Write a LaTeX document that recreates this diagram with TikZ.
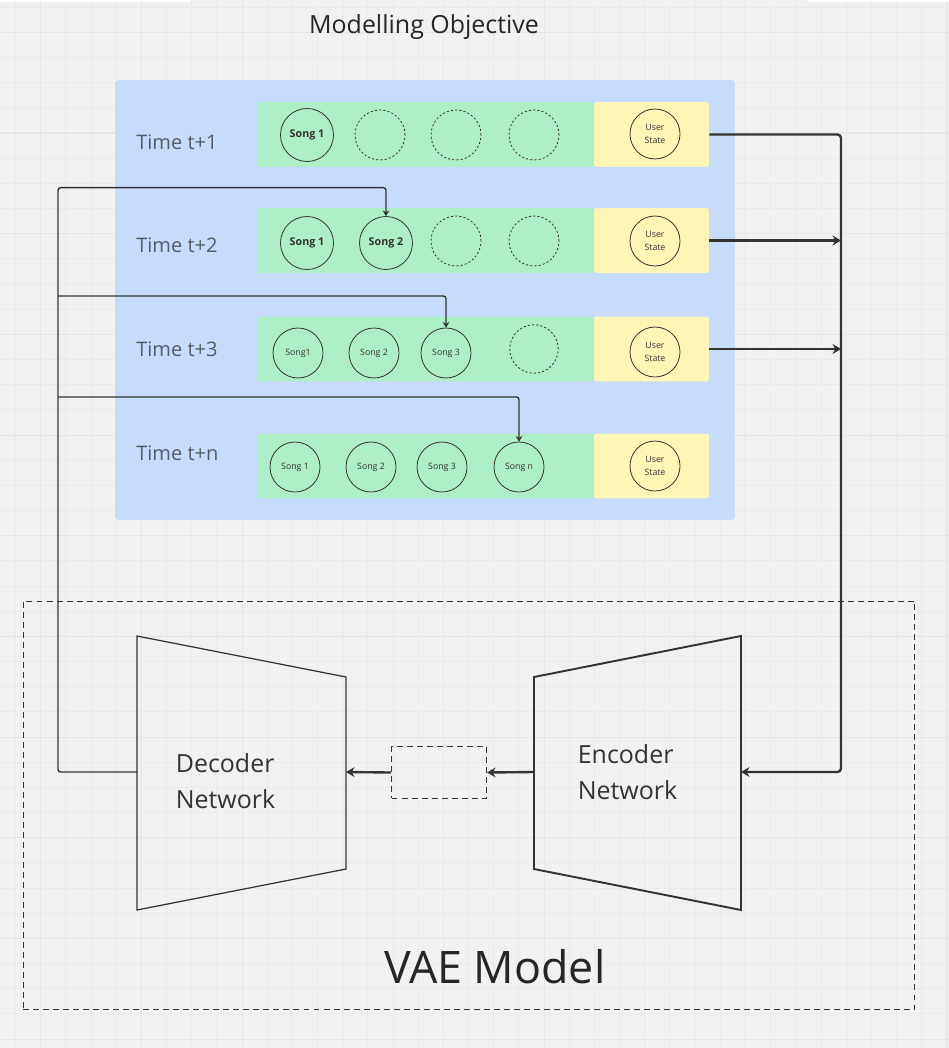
\documentclass[tikz,border=0pt]{standalone}
\usepackage{fontspec}
\setmainfont{Open Sans}
\usepackage{tikz}
\usetikzlibrary{positioning,arrows.meta}

\definecolor{bgcol}{HTML}{F1F1F1}
\definecolor{gridmin}{HTML}{EAEAEA}
\definecolor{gridmaj}{HTML}{E5E5E5}
\definecolor{panelblue}{HTML}{C7DCFD}
\definecolor{lanegreen}{HTML}{ADF0C7}
\definecolor{stateyellow}{HTML}{FFF5B5}
\definecolor{ink}{HTML}{333333}
\definecolor{timegray}{HTML}{555B66}

\begin{document}
\begin{tikzpicture}[
  x=0.02cm, y=-0.02cm,
  lane/.style={fill=lanegreen, rounded corners=1.5pt, minimum width=6.74cm, minimum height=1.3cm, inner sep=0pt},
  statebox/.style={fill=stateyellow, rounded corners=1.5pt, minimum width=2.3cm, minimum height=1.3cm, inner sep=0pt},
  song/.style={draw=ink, line width=0.45pt, circle, minimum size=1cm, inner sep=0pt, text=ink, font=\fontsize{5}{6}\selectfont},
  songb/.style={song, minimum size=1.06cm, font=\fontsize{6.1}{7}\selectfont\bfseries},
  slot/.style={song, dash pattern=on 1.2pt off 1.2pt},
  ustate/.style={song, align=center, font=\fontsize{5}{7}\selectfont},
  tlbl/.style={anchor=base west, inner sep=0pt, text=timegray, font=\fontsize{11.4}{13}\selectfont},
  netlbl/.style={anchor=west, inner sep=0pt, align=left, text=ink, font=\fontsize{14.2}{20.4}\selectfont},
  ttl/.style={anchor=base, inner sep=0pt, text=black!85},
  arr/.style={-{Stealth[length=4.8pt,width=5.6pt]}, line width=1.35pt, draw=ink, rounded corners=2pt},
  fbarr/.style={-{Stealth[length=3.2pt,width=3.8pt]}, line width=0.8pt, draw=ink, rounded corners=1.5pt},
  dashbox/.style={draw=ink, line width=0.6pt, dash pattern=on 3.4pt off 2.3pt, inner sep=0pt},
]
% --- Board ---
\useasboundingbox (0,0) rectangle (949,1048);
\clip (0,0) rectangle (949,1048);
\fill[bgcol] (0,0) rectangle (949,1048);
\foreach \i in {0,...,37} \draw[gridmin, line width=0.5pt] ({15.5+25.17*\i},0) -- ++(0,1048);
\foreach \j in {0,...,41} \draw[gridmin, line width=0.5pt] (0,{7.1+25.17*\j}) -- ++(949,0);
\foreach \i in {0,...,9} \draw[gridmaj, line width=0.6pt] ({40.7+100.7*\i},0) -- ++(0,1048);
\foreach \j in {0,...,10} \draw[gridmaj, line width=0.6pt] (0,{32.3+100.7*\j}) -- ++(949,0);
\fill[white] (0,-6) rectangle (190,2);
\fill[white] (808,-6) rectangle (949,2);

% --- Modelling objective ---
\node[ttl, font=\fontsize{14.2}{17}\selectfont] (title) at (424,33.3) {Modelling Objective};
\node[fill=panelblue, rounded corners=2pt, minimum width=12.4cm, minimum height=8.8cm] (panel) at (425,300) {};

\node[lane] (g1) at (425.5,134.5) {};
\node[lane] (g2) at (425.5,240.5) {};
\node[lane] (g3) at (425.5,349) {};
\node[lane] (g4) at (425.5,466) {};
\node[statebox] (y1) at (651.5,134.5) {};
\node[statebox] (y2) at (651.5,240.5) {};
\node[statebox] (y3) at (651.5,349) {};
\node[statebox] (y4) at (651.5,466) {};

\node[tlbl] (t1) at (136,149) {Time t+1};
\node[tlbl] (t2) at (136,252.3) {Time t+2};
\node[tlbl] (t3) at (136,356.7) {Time t+3};
\node[tlbl] (t4) at (136,460) {Time t+n};

% row t+1
\node[songb] (s11) at (307,135) {Song 1};
\node[slot] (d12) at (380,135) {};
\node[slot] (d13) at (456,135) {};
\node[slot] (d14) at (534,135) {};
\node[ustate] (u1) at (655,134) {User\\State};
% row t+2
\node[songb] (s21) at (307,243) {Song 1};
\node[songb] (s22) at (386,243) {Song 2};
\node[slot] (d23) at (456,241) {};
\node[slot] (d24) at (534,241) {};
\node[ustate] (u2) at (655,241) {User\\State};
% row t+3
\node[song] (s31) at (298,353) {Song1};
\node[song] (s32) at (374,353) {Song 2};
\node[song] (s33) at (446,353) {Song 3};
\node[slot, minimum size=0.97cm] (d34) at (534,349) {};
\node[ustate] (u3) at (655,352) {User\\State};
% row t+n
\node[song] (s41) at (295,467) {Song 1};
\node[song] (s42) at (371,467) {Song 2};
\node[song] (s43) at (442,467) {Song 3};
\node[song] (s44) at (519,467) {Song n};
\node[ustate] (u4) at (655,466) {User\\State};

% --- VAE ---
\node[dashbox, minimum width=17.84cm, minimum height=8.18cm] (vae) at (469,805.5) {};
\draw[ink, line width=0.7pt] (137,636) -- (346,677) -- (346,869) -- (137,910) -- cycle;
\draw[ink, line width=1.1pt] (534,677) -- (741,636) -- (741,910) -- (534,869) -- cycle;
\coordinate (decW) at (137,772);
\coordinate (decE) at (346,772);
\coordinate (encW) at (534,772);
\coordinate (encE) at (741,772);
\node[dashbox, line width=0.7pt, minimum width=1.9cm, minimum height=1.03cm] (lat) at (439,772.5) {};
\node[netlbl] (dect) at (175.5,780.8) {Decoder\\Network};
\node[netlbl] (enct) at (577.5,772.5) {Encoder\\Network};
\node[ttl, font=\fontsize{25.5}{30}\selectfont] (vaet) at (494.8,983.3) {VAE Model};

% --- Edges ---
\coordinate (fbT) at (58,187.7);
\coordinate (fb3) at (58,296);
\coordinate (fb4) at (58,397);
\coordinate (busB) at (841,772);
\draw[fbarr] (decW) -| (fbT) -| (s22.north);
\draw[fbarr] (fb3) -| (s33.north);
\draw[fbarr] (fb4) -| (s44.north);
\draw[arr] (y1.east) -| (busB) -- (encE);
\draw[arr] (y2.east) -- (y2.east -| busB);
\draw[arr] (y3.east) -- (y3.east -| busB);
\draw[arr] (encW) -- (lat.east);
\draw[arr] (lat.west) -- (decE);
\end{tikzpicture}
\end{document}
